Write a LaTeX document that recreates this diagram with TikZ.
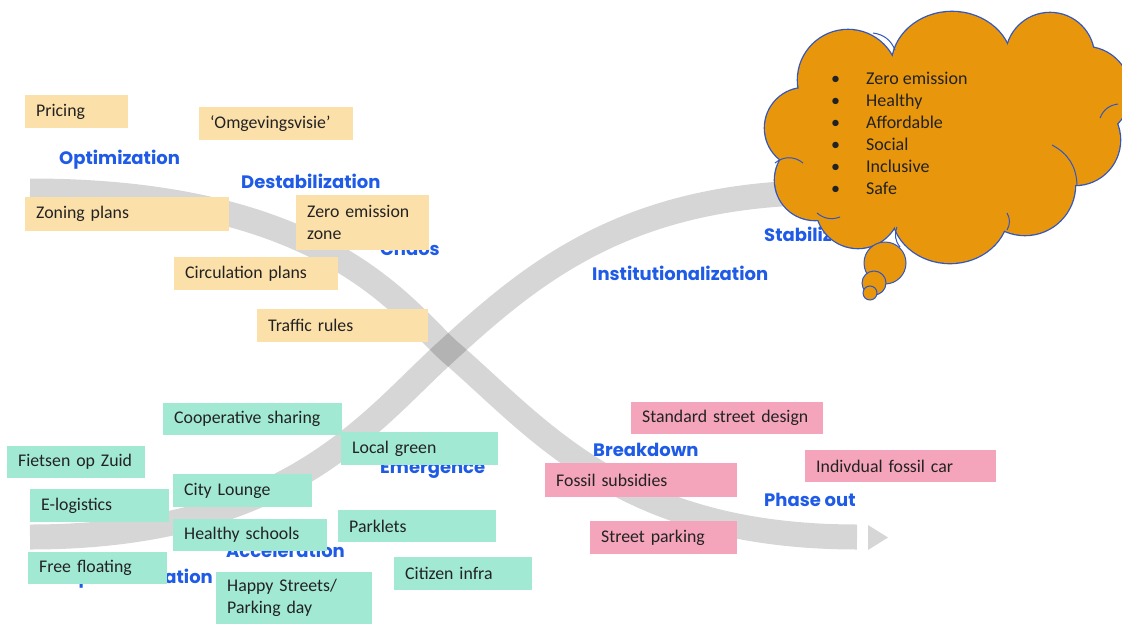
\documentclass[tikz,border=0pt]{standalone}
\usepackage{fontspec}
\setmainfont{Carlito}
\newfontfamily\lblfont{Poppins}
\definecolor{cyel}{HTML}{FCE0AA}
\definecolor{cgrn}{HTML}{A2E9D3}
\definecolor{cpnk}{HTML}{F5A5BB}
\definecolor{cblue}{HTML}{1F5BE6}
\definecolor{corange}{HTML}{E8960C}
\definecolor{cline}{HTML}{2F56C2}
\definecolor{ctext}{HTML}{222222}
\begin{document}
\begin{tikzpicture}[x=1pt,y=1pt,
  band/.style={draw=black, draw opacity=0.16, line width=25pt},
  bx/.style={anchor=north west, inner xsep=11pt, inner ysep=0pt, align=left, text=ctext, font=\fontsize{17.8}{22}\selectfont},
  yel/.style={bx, fill=cyel},
  grn/.style={bx, fill=cgrn},
  pnk/.style={bx, fill=cpnk},
  lbl/.style={anchor=base west, inner sep=0pt, text=cblue, font=\lblfont\bfseries\fontsize{18}{20}\selectfont},
  ctxt/.style={anchor=base west, inner sep=0pt, text=ctext, font=\fontsize{18}{22}\selectfont},
  puff/.style={fill=corange, draw=cline, line width=1pt},
  inarc/.style={draw=cline, line width=1pt}
]
\useasboundingbox (0,0) rectangle (1122,-624);
\fill[white] (0,0) rectangle (1122,-624);

% ---- bands ----
\coordinate (a0) at (30,-191);
\coordinate (xx) at (448,-350);
\coordinate (a1) at (857,-537);
\coordinate (b0) at (30,-537);
\coordinate (b1) at (800,-193);
\draw[band] (a0) .. controls (320,-191) and (400,-305) .. (xx) .. controls (538,-427) and (620,-537) .. (a1);
\draw[band] (b0) .. controls (290,-537) and (370,-420) .. (xx) .. controls (530,-275) and (620,-200) .. (b1);
\fill[black, opacity=0.16] (868,-525) -- (888,-537.5) -- (868,-550) -- cycle;

% ---- phase labels ----
\node[lbl] (optim) at (59,-164) {Optimization};
\node[lbl] (destab) at (241,-188) {Destabilization};
\node[lbl] (chaos) at (380,-255) {Chaos};
\node[lbl] (stab) at (764,-241) {Stabilization};
\node[lbl] (inst) at (592,-280) {Institutionalization};
\node[lbl] (emerg) at (380,-473) {Emergence};
\node[lbl] (accel) at (226,-557) {Acceleration};
\node[lbl] (exper) at (58,-583) {Experimentation};
\node[lbl] (brk) at (593,-456) {Breakdown};
\node[lbl] (phase) at (764,-506) {Phase out};

% ---- yellow boxes ----
\node[yel, minimum width=103pt, minimum height=33pt, text width=81pt] (pricing) at (25,-95) {\mbox{Pricing}};
\node[yel, minimum width=154pt, minimum height=33pt, text width=132pt] (omg) at (199,-107) {\mbox{‘Omgevingsvisie’}};
\node[yel, minimum width=204pt, minimum height=34pt, text width=182pt] (zoning) at (25,-197) {\mbox{Zoning plans}};
\node[yel, minimum width=133pt, minimum height=55pt, text width=111pt] (zero) at (296,-195) {\mbox{Zero emission}\\\mbox{zone}};
\node[yel, minimum width=164pt, minimum height=33pt, text width=142pt] (circ) at (174,-257) {\mbox{Circulation plans}};
\node[yel, minimum width=171pt, minimum height=33pt, text width=149pt] (traffic) at (257,-309) {\mbox{Traffic rules}};

% ---- green boxes ----
\node[grn, minimum width=179pt, minimum height=32pt, text width=157pt] (coop) at (163,-403) {\mbox{Cooperative sharing}};
\node[grn, minimum width=157pt, minimum height=33pt, text width=135pt] (local) at (341,-432) {\mbox{Local green}};
\node[grn, minimum width=138pt, minimum height=32pt, text width=116pt] (fiets) at (7,-446) {\mbox{Fietsen op Zuid}};
\node[grn, minimum width=139pt, minimum height=33pt, text width=117pt] (city) at (173,-474) {\mbox{City Lounge}};
\node[grn, minimum width=139pt, minimum height=33pt, text width=117pt] (elog) at (30,-489) {\mbox{E-logistics}};
\node[grn, minimum width=154pt, minimum height=32pt, text width=132pt] (healthy) at (173,-519) {\mbox{Healthy schools}};
\node[grn, minimum width=158pt, minimum height=32pt, text width=136pt] (parklets) at (338,-510) {\mbox{Parklets}};
\node[grn, minimum width=139pt, minimum height=32pt, text width=117pt] (free) at (28,-552) {\mbox{Free floating}};
\node[grn, minimum width=156pt, minimum height=52pt, text width=134pt] (happy) at (216,-572) {\mbox{Happy Streets/}\\\mbox{Parking day}};
\node[grn, minimum width=138pt, minimum height=33pt, text width=116pt] (citizen) at (394,-557) {\mbox{Citizen infra}};

% ---- pink boxes ----
\node[pnk, minimum width=192pt, minimum height=32pt, text width=170pt] (std) at (631,-402) {\mbox{Standard street design}};
\node[pnk, minimum width=191pt, minimum height=32pt, text width=169pt] (indiv) at (805,-450) {\mbox{Indivdual fossil car}};
\node[pnk, minimum width=192pt, minimum height=34pt, text width=170pt] (fossil) at (545,-463) {\mbox{Fossil subsidies}};
\node[pnk, minimum width=147pt, minimum height=33pt, text width=125pt] (street) at (590,-521) {\mbox{Street parking}};

% ---- cloud ----
\foreach \cx/\cy/\rx/\ry in {848/80/50/50, 952/65/60/53, 1050/57/44/44, 1085/92/45/45, 1075/140/45/45, 1025/185/50/50, 950/212/58/51, 858/206/42/42, 815/180/40/40, 805/128/40/40}
  \draw[draw=cline, line width=2.6pt] (\cx,-\cy) ellipse [x radius=\rx, y radius=\ry];
\foreach \cx/\cy/\rx/\ry in {848/80/50/50, 952/65/60/53, 1050/57/44/44, 1085/92/45/45, 1075/140/45/45, 1025/185/50/50, 950/212/58/51, 858/206/42/42, 815/180/40/40, 805/128/40/40}
  \fill[corange] (\cx,-\cy) ellipse [x radius=\rx, y radius=\ry];
\fill[corange] (945,-140) ellipse [x radius=140, y radius=90];
\draw[inarc] (1052,-145) to[bend left=30] (1077,-185);
\draw[inarc] (1100,-118) to[bend left=30] (1118,-104);
\draw[inarc] (775,-163) to[bend left=40] (803,-163);
\draw[inarc] (817,-213) to[bend right=30] (840,-217);
\draw[inarc] (897,-227) to[bend right=30] (900,-247);
\draw[inarc] (1007,-230) to[bend right=30] (1007,-213);
\draw[inarc] (873,-33) to[bend left=30] (895,-50);
\draw[puff] (885,-263) circle [radius=21];
\draw[puff] (874,-283) circle [radius=12];
\draw[puff] (870,-293) circle [radius=7];

\node[ctxt] (w1) at (831,-84) {\makebox[35pt][l]{\textbullet}Zero emission};
\node[ctxt] (w2) at (831,-106) {\makebox[35pt][l]{\textbullet}Healthy};
\node[ctxt] (w3) at (831,-128) {\makebox[35pt][l]{\textbullet}Affordable};
\node[ctxt] (w4) at (831,-150) {\makebox[35pt][l]{\textbullet}Social};
\node[ctxt] (w5) at (831,-172) {\makebox[35pt][l]{\textbullet}Inclusive};
\node[ctxt] (w6) at (831,-194) {\makebox[35pt][l]{\textbullet}Safe};
\end{tikzpicture}
\end{document}
